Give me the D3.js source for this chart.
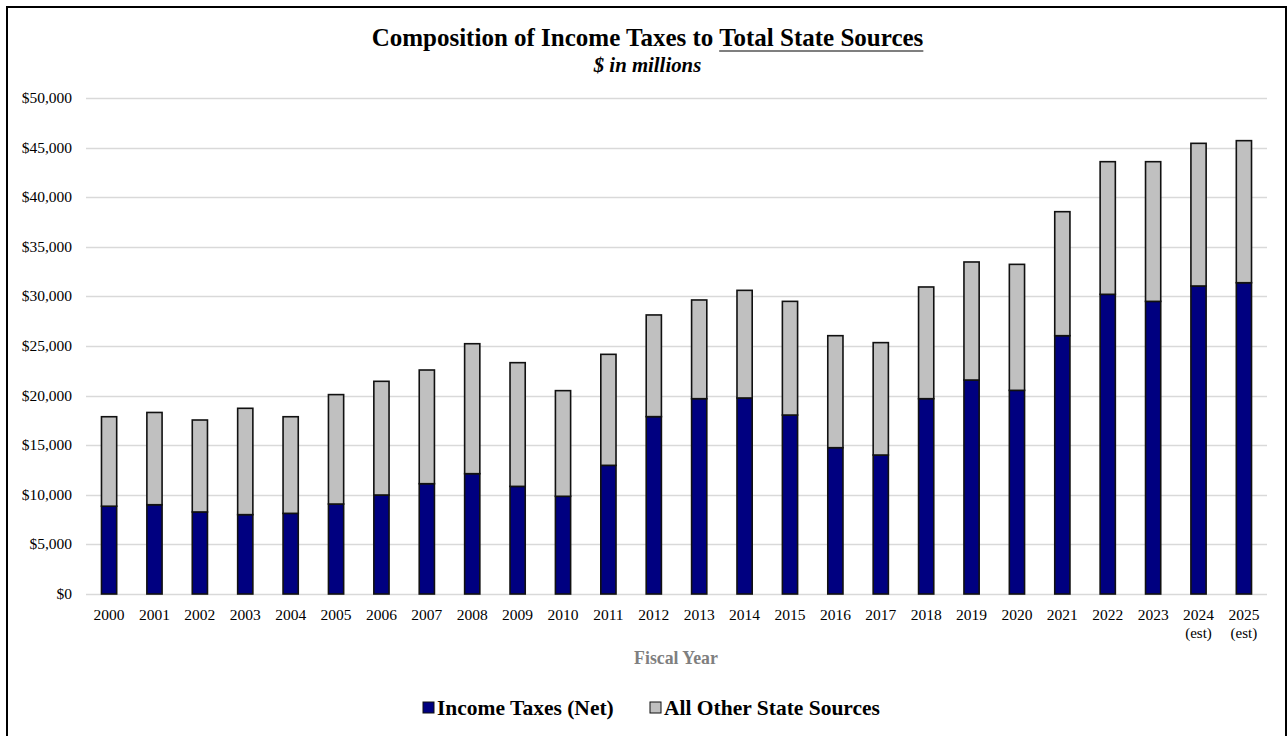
<!DOCTYPE html>
<html><head><meta charset="utf-8">
<script src="https://cdn.jsdelivr.net/npm/d3@7"></script>
<style>body{margin:0;background:#fff}svg{display:block}</style>
</head><body>
<svg id="c" width="1288" height="736"></svg>
<script>
const years = ["2000","2001","2002","2003","2004","2005","2006","2007","2008","2009","2010","2011","2012","2013","2014","2015","2016","2017","2018","2019","2020","2021","2022","2023","2024","2025"];
const yearNotes = ["","","","","","","","","","","","","","","","","","","","","","","","","(est)","(est)"];
const incomeTaxes = [8850,9000,8270,8000,8130,9070,9980,11120,12130,10850,9850,12970,17880,19690,19760,18040,14750,14010,19690,21570,20530,26040,30210,29500,31050,31380];
const totalSources = [17870,18300,17540,18720,17870,20100,21440,22580,25230,23320,20500,24160,28130,29640,30610,29500,26040,25340,30950,33470,33230,38540,43580,43580,45430,45700];
const otherSources = totalSources.map((t,i)=>t-incomeTaxes[i]);
const yTicks = [0,5000,10000,15000,20000,25000,30000,35000,40000,45000,50000];
const seriesNames = ["Income Taxes (Net)","All Other State Sources"];
const colors = ["#000080","#C0C0C0"];

const svg = d3.select("#c");
const font = "'Liberation Serif','Times New Roman',serif";
svg.append("rect").attr("x",7).attr("y",7).attr("width",1279).attr("height",740)
  .attr("fill","#fff").attr("stroke","#000").attr("stroke-width",2);

const x = d3.scaleBand().domain(years).range([86.5,1266.5]).paddingInner(0.665).paddingOuter(0.33);
const y = d3.scaleLinear().domain([0,50000]).range([594,98]);

// gridlines
svg.append("g").selectAll("line").data(yTicks).join("line")
  .attr("x1",86).attr("x2",1267).attr("y1",d=>Math.round(y(d))+0.5).attr("y2",d=>Math.round(y(d))+0.5)
  .attr("stroke","#d9d9d9").attr("stroke-width",1.5);

// y labels
svg.append("g").selectAll("text").data(yTicks).join("text")
  .attr("x",72).attr("y",d=>y(d)+5).attr("text-anchor","end")
  .attr("font-family",font).attr("font-size",15.5).attr("fill","#000")
  .text(d=>"$"+d3.format(",")(d));

const stack = d3.stack().keys([0,1]).value((d,k)=>k===0?d.inc:d.oth);
const rows = years.map((yr,i)=>({yr,inc:incomeTaxes[i],oth:otherSources[i]}));
const layers = stack(rows);
svg.append("g").selectAll("g").data(layers).join("g")
  .attr("fill",(d,i)=>colors[i])
  .selectAll("rect").data(d=>d).join("rect")
  .attr("x",d=>x(d.data.yr)).attr("width",x.bandwidth())
  .attr("y",d=>y(d[1])).attr("height",d=>y(d[0])-y(d[1]))
  .attr("stroke","#111").attr("stroke-width",1.6);

// x labels
const xl = svg.append("g");
xl.selectAll("text.yr").data(years).join("text").attr("class","yr")
  .attr("x",d=>x(d)+x.bandwidth()/2).attr("y",620).attr("text-anchor","middle")
  .attr("font-family",font).attr("font-size",15.5).text(d=>d);
xl.selectAll("text.note").data(years).join("text").attr("class","note")
  .attr("x",d=>x(d)+x.bandwidth()/2).attr("y",638).attr("text-anchor","middle")
  .attr("font-family",font).attr("font-size",15).text((d,i)=>yearNotes[i]);

svg.append("text").attr("x",676).attr("y",664).attr("text-anchor","middle")
  .attr("font-family",font).attr("font-size",17.8).attr("font-weight","bold").attr("fill","#7f7f7f")
  .text("Fiscal Year");

// title
const title = svg.append("text").attr("x",647.5).attr("y",46).attr("text-anchor","middle")
  .attr("font-family",font).attr("font-size",25).attr("font-weight","bold");
title.append("tspan").text("Composition of Income Taxes to ");
const ul = title.append("tspan").text("Total State Sources");
const tw = title.node().getComputedTextLength();
const uw = ul.node().getComputedTextLength();
svg.append("line").attr("x1",647.5+tw/2-uw).attr("x2",647.5+tw/2).attr("y1",51).attr("y2",51)
  .attr("stroke","#000").attr("stroke-width",1.2);
svg.append("text").attr("x",647.5).attr("y",72).attr("text-anchor","middle")
  .attr("font-family",font).attr("font-size",20.8).attr("font-weight","bold").attr("font-style","italic")
  .text("$ in millions");

// legend
const leg = [{x:423,t:seriesNames[0],c:colors[0]},{x:650,t:seriesNames[1],c:colors[1]}];
const lg = svg.append("g").selectAll("g").data(leg).join("g");
lg.append("rect").attr("x",d=>d.x).attr("y",702).attr("width",11).attr("height",11)
  .attr("fill",d=>d.c).attr("stroke","#111").attr("stroke-width",1);
lg.append("text").attr("x",d=>d.x+14).attr("y",715)
  .attr("font-family",font).attr("font-size",21.5).attr("font-weight","bold").text(d=>d.t);
</script>
</body></html>
